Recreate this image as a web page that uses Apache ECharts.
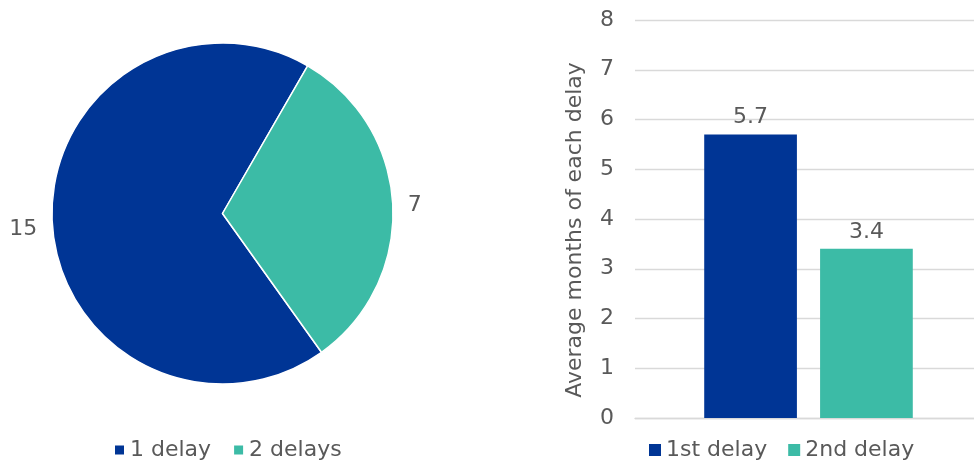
<!DOCTYPE html>
<html>
<head>
<meta charset="utf-8">
<script src="https://cdn.jsdelivr.net/npm/echarts@6/dist/echarts.min.js"></script>
<style>
  html, body { margin: 0; padding: 0; background: #ffffff; }
  #chart { width: 974px; height: 462px; }
</style>
</head>
<body>
<div id="chart"></div>
<script>
// Number of cases by delay count
const pieNames = ['1 delay', '2 delays'];
const pieValues = [15, 7];

// Average months of each delay
const barNames = ['1st delay', '2nd delay'];
const barValues = [5.7, 3.4];
const barCategories = [''];

const yMin = 0;
const yMax = 8;
const yInterval = 1;

const DARK = '#003595';
const TEAL = '#3cbba6';
const TEXT = '#595959';
const GRIDLINE = '#d9d9d9';
const FONT = 'DejaVu Sans, Verdana, sans-serif';
const FS = 22;

const chart = echarts.init(document.getElementById('chart'), null, { renderer: 'canvas' });

// Bars live in grid 1 (plot area for the marks); grid 0 carries the visible axis,
// gridlines and axis title. Both share the same value range.
const barSeries = barNames.map((name, i) => ({
  name: name,
  type: 'bar',
  xAxisIndex: 1,
  yAxisIndex: 1,
  data: [barValues[i]],
  barWidth: 92.7,
  barGap: '25%',
  itemStyle: { color: i === 0 ? DARK : TEAL },
  label: {
    show: true,
    position: 'top',
    distance: 6,
    color: TEXT,
    fontFamily: FONT,
    fontSize: FS,
    formatter: p => p.value.toFixed(1)
  }
}));

chart.setOption({
  animation: false,
  textStyle: { fontFamily: FONT },
  legend: [
    {
      data: pieNames,
      left: 108,
      top: 434,
      itemWidth: 11,
      itemHeight: 11,
      itemGap: 21,
      icon: 'rect',
      textStyle: { color: TEXT, fontFamily: FONT, fontSize: FS }
    },
    {
      data: barNames,
      left: 644,
      top: 434,
      itemWidth: 12,
      itemHeight: 12,
      itemGap: 21,
      icon: 'rect',
      textStyle: { color: TEXT, fontFamily: FONT, fontSize: FS }
    }
  ],
  grid: [
    { left: 635, top: 20, right: 0, bottom: 44, containLabel: false },
    { left: 643, top: 20, right: 0, bottom: 44, containLabel: false }
  ],
  xAxis: [
    {
      type: 'category',
      gridIndex: 0,
      data: barCategories,
      axisLine: { show: true, lineStyle: { color: GRIDLINE, width: 1.3 } },
      axisTick: { show: false },
      axisLabel: { show: false }
    },
    {
      type: 'category',
      gridIndex: 1,
      data: barCategories,
      show: false
    }
  ],
  yAxis: [
    {
      type: 'value',
      gridIndex: 0,
      min: yMin,
      max: yMax,
      interval: yInterval,
      name: 'Average months of each delay',
      nameLocation: 'middle',
      nameGap: 49,
      nameTextStyle: { color: TEXT, fontFamily: FONT, fontSize: FS, padding: [0, 22, 0, 0] },
      axisLine: { show: false },
      axisTick: { show: false },
      axisLabel: { color: TEXT, fontFamily: FONT, fontSize: FS, margin: 21 },
      splitLine: { lineStyle: { color: GRIDLINE, width: 1.3 } }
    },
    {
      type: 'value',
      gridIndex: 1,
      min: yMin,
      max: yMax,
      interval: yInterval,
      show: false,
      splitLine: { show: false }
    }
  ],
  series: [
    {
      name: 'Delays',
      type: 'pie',
      center: [222.5, 213.5],
      radius: [0, 170.5],
      startAngle: 305.5,
      clockwise: true,
      avoidLabelOverlap: false,
      data: pieNames.map((n, i) => ({
        name: n,
        value: pieValues[i],
        itemStyle: { color: i === 0 ? DARK : TEAL }
      })),
      itemStyle: { borderColor: '#ffffff', borderWidth: 1.5 },
      label: {
        show: true,
        position: 'outside',
        formatter: '{c}',
        color: TEXT,
        fontFamily: FONT,
        fontSize: FS,
        distanceToLabelLine: 5
      },
      labelLine: { show: false, length: 6, length2: 4 },
      // the larger slice's value sits slightly lower beside the pie
      labelLayout: params => (params.dataIndex === 0 ? { dy: 7 } : {}),
      emphasis: { disabled: true }
    },
    ...barSeries
  ]
});
</script>
</body>
</html>
